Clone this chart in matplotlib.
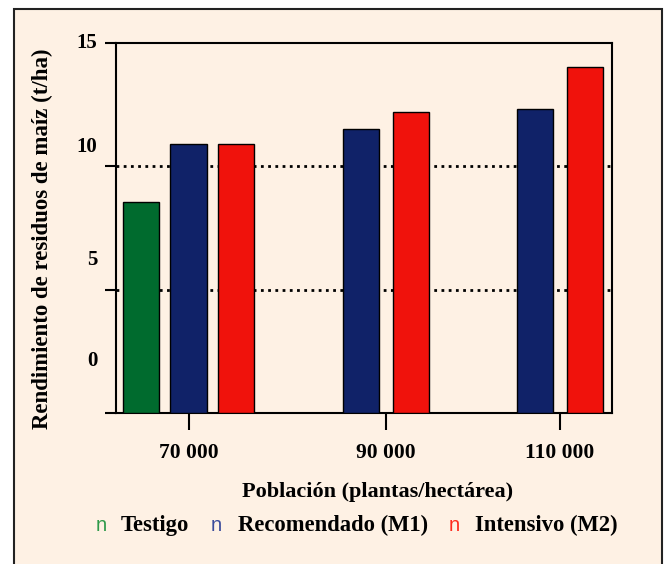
import matplotlib

matplotlib.use("Agg")
import matplotlib.pyplot as plt
from matplotlib.patches import Rectangle

# data
groups = ["70 000", "90 000", "110 000"]
series = ["Testigo", "Recomendado (M1)", "Intensivo (M2)"]
testigo = [8.57, None, None]
recomendado = [10.9, 11.5, 12.35]
intensivo = [10.9, 12.2, 14.02]
yticks = [0, 5, 10, 15]
ytick_labels = ["0", "5", "10", "15"]

# layout
W, H = 667, 564
BG = "#FEF1E4"
BAR_COLORS = ["#006B2E", "#102268", "#F0120C"]
MARK_COLORS = ["#2F9A4A", "#3A4B9B", "#FF2B1E"]
SERIF = "Liberation Serif"
group_x = [1.51, 5.62, 9.24]
offsets = {3: [-0.98, 0.0, 0.98], 2: [-0.52, 0.52]}
bar_w = 0.75
# the original's y tick labels sit above their ticks; keep them where they were drawn
label_y = [2.08, 6.22, 10.77, 15.0]


def px(x, y):
    return x / W, 1 - y / H


fig = plt.figure(figsize=(W / 100, H / 100), dpi=100, facecolor="white")
fig.add_artist(Rectangle(px(14, 600), (662 - 14) / W, (600 - 9) / H,
                         transform=fig.transFigure, facecolor=BG,
                         edgecolor="#222222", lw=1.5, zorder=0))

ax = fig.add_axes([116 / W, 1 - 412.7 / H, 496 / W, 369.4 / H])
ax.set_facecolor(BG)

all_vals = [testigo, recomendado, intensivo]
for gi, gx in enumerate(group_x):
    present = [si for si in range(3) if all_vals[si][gi] is not None]
    for k, si in enumerate(present):
        ax.bar(gx + offsets[len(present)][k], all_vals[si][gi], bar_w,
               color=BAR_COLORS[si], edgecolor="black", lw=1.0, zorder=3)

for v in (5, 10):
    ax.axhline(v, color="black", lw=2.0, ls=(0, (1, 1.6)), zorder=1)

ax.set_xlim(0, 10.33)
ax.set_ylim(0, 15)
ax.set_xticks(group_x, [""] * 3)
ax.set_yticks(yticks, [""] * 4)
ax.tick_params(axis="y", direction="out", length=8, width=1.5, color="black")
ax.tick_params(axis="x", direction="out", length=12.5, width=1.5, color="black")
for s in ax.spines.values():
    s.set_linewidth(1.5)
    s.set_color("black")

tf = dict(family=SERIF, weight="bold", color="black")
for lab, yv in zip(ytick_labels, label_y):
    ax.text(-0.038, yv, lab, transform=ax.get_yaxis_transform(), ha="right",
            va="center", fontsize=15, **tf)
xlab_y = -(457.9 - 412.7) / 369.4
for lab, gx in zip(groups, group_x):
    ax.text(gx, xlab_y, lab, transform=ax.get_xaxis_transform(), ha="center",
            va="baseline", fontsize=15.5, **tf)

fig.text(*px(42, 239), "Rendimiento de residuos de maíz (t/ha)", rotation=90,
         ha="center", va="center", fontsize=16.5, **tf)
fig.text(*px(378, 497), "Población (plantas/hectárea)", ha="center",
         va="baseline", fontsize=16, **tf)

mark_x = [96, 211, 449]
text_x = [120.7, 237.5, 475]
for name, mx, tx, c in zip(series, mark_x, text_x, MARK_COLORS):
    fig.text(*px(mx, 531), "n", color=c, fontsize=14.5, family="Liberation Sans",
             ha="left", va="baseline")
    fig.text(*px(tx, 531), name, ha="left", va="baseline", fontsize=16.3, **tf)

fig.savefig("out.png", dpi=100, facecolor="white")
